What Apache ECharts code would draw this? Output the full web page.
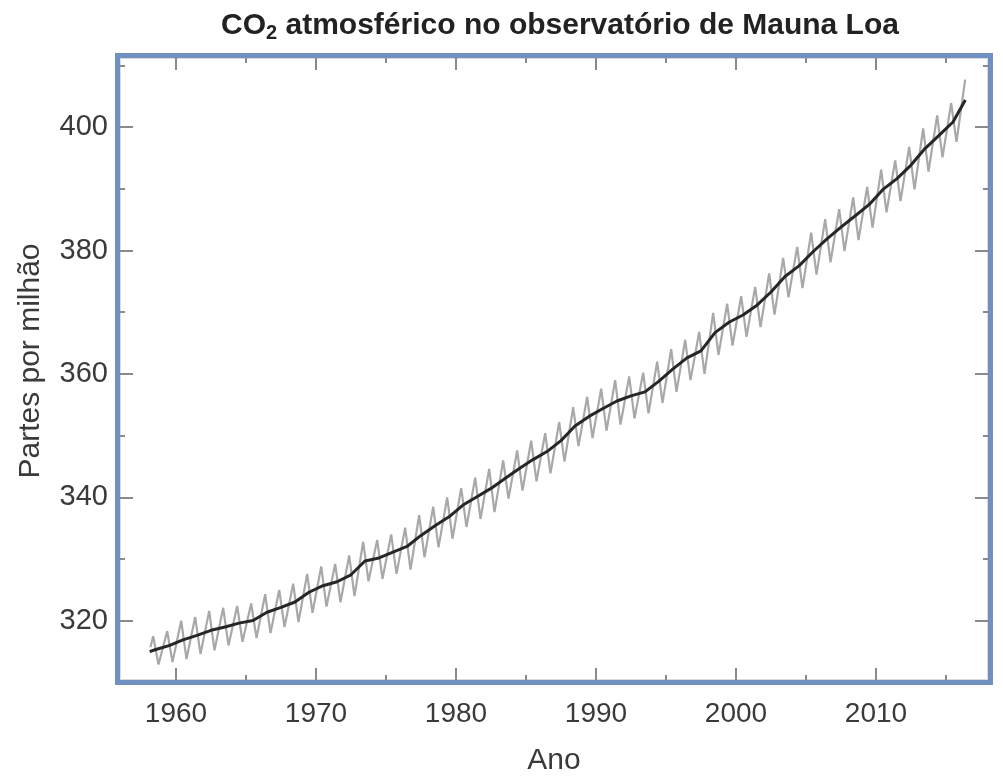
<!DOCTYPE html>
<html>
<head>
<meta charset="utf-8">
<script src="https://cdn.jsdelivr.net/npm/echarts@6/dist/echarts.min.js"></script>
<style>
html,body{margin:0;padding:0;background:#fff;}
#chart{width:1003px;height:783px;}
</style>
</head>
<body>
<div id="chart"></div>
<script>
// ---- data ----
const firstYear = 1958;
// gray monthly curve: start point (Mar 1958), yearly May peaks, yearly Sep/Oct troughs
const grayStart = [1958.17, 315.7];
const peakMay = [317.5, 318.3, 320.0, 320.6, 321.6, 322.1, 322.4, 322.8, 324.3, 325.0,
  326.0, 327.6, 328.8, 329.2, 330.6, 332.8, 333.1, 334.0, 335.1, 337.1,
  338.5, 340.0, 341.5, 343.2, 344.6, 346.0, 347.6, 349.2, 350.4, 352.2,
  354.6, 356.3, 357.6, 359.0, 359.6, 360.2, 362.0, 364.0, 365.5, 366.8,
  369.9, 371.4, 372.6, 374.1, 376.3, 378.8, 380.6, 382.9, 385.1, 386.7,
  388.6, 390.3, 393.1, 394.6, 396.8, 399.8, 401.9, 403.9, 407.7];
const troughAutumn = [312.9, 313.3, 313.8, 314.6, 315.2, 316.0, 316.6, 317.2, 318.0, 319.0,
  319.8, 321.3, 322.3, 323.0, 324.0, 326.4, 326.8, 327.6, 328.3, 330.3,
  331.9, 333.3, 335.2, 336.5, 337.6, 339.8, 341.1, 342.6, 343.9, 345.8,
  348.3, 349.6, 350.8, 351.8, 352.8, 353.6, 355.3, 357.1, 359.0, 360.0,
  363.1, 364.6, 366.0, 367.6, 369.6, 372.4, 373.9, 376.1, 378.1, 379.9,
  381.7, 383.7, 386.2, 388.0, 389.9, 392.8, 395.1, 397.6];
const peakOffset = 0.37, troughOffset = 0.75; // May, late Sep (fraction of year)
// black trend curve: start, annual means at mid-year (1958..2015), end
const trendStart = [1958.12, 315.0];
const trendAnnual = [315.3, 315.97, 316.91, 317.64, 318.45, 318.99, 319.62, 320.04, 321.38, 322.16,
  323.04, 324.62, 325.68, 326.32, 327.45, 329.68, 330.18, 331.11, 332.04, 333.83,
  335.40, 336.84, 338.75, 340.11, 341.45, 343.05, 344.65, 346.12, 347.42, 349.19,
  351.57, 353.12, 354.39, 355.61, 356.45, 357.10, 358.83, 360.82, 362.61, 363.73,
  366.70, 368.38, 369.55, 371.14, 373.28, 375.80, 377.52, 379.80, 381.90, 383.79,
  385.60, 387.43, 389.90, 391.65, 393.85, 396.52, 398.65, 400.83];
const trendEnd = [2016.38, 404.4];

// axes
const xMin = 1956, xMax = 2018;
const xMajor = [1960, 1970, 1980, 1990, 2000, 2010];
const xMinor = [1965, 1975, 1985, 1995, 2005, 2015];
const yMin = 310.4, yMax = 411.2;
const yMajor = [320, 340, 360, 380, 400];
const yMinor = [330, 350, 370, 390, 410];

const xName = 'Ano';
const yName = 'Partes por milhão';

// ---- build series ----
const grayData = [grayStart];
for (let i = 0; i < peakMay.length; i++) {
  grayData.push([firstYear + i + peakOffset, peakMay[i]]);
  if (i < troughAutumn.length) grayData.push([firstYear + i + troughOffset, troughAutumn[i]]);
}
const trendData = [trendStart];
for (let i = 0; i < trendAnnual.length; i++) trendData.push([firstYear + i + 0.5, trendAnnual[i]]);
trendData.push(trendEnd);

const FONT = '"Liberation Sans", Arial, Helvetica, sans-serif';
const TXT = '#3a3a3a';
const tickStyle = { color: '#8a8a8a', width: 2 };

function xAx(pos, ticks, len, withLabel) {
  const a = {
    type: 'value', position: pos, min: xMin, max: xMax,
    axisLine: { show: false }, splitLine: { show: false },
    axisTick: { show: true, inside: true, length: len, customValues: ticks, lineStyle: tickStyle },
    axisLabel: { show: false }
  };
  if (withLabel) {
    a.axisLabel = { show: true, customValues: ticks, fontSize: 28, color: TXT, fontFamily: FONT, margin: 20,
      formatter: v => String(v) };
    a.name = xName; a.nameLocation = 'middle'; a.nameGap = 66;
    a.nameTextStyle = { fontSize: 30, color: TXT, fontFamily: FONT };
  }
  return a;
}
function yAx(pos, ticks, len, withLabel) {
  const a = {
    type: 'value', position: pos, min: yMin, max: yMax,
    axisLine: { show: false }, splitLine: { show: false },
    axisTick: { show: true, inside: true, length: len, customValues: ticks, lineStyle: tickStyle },
    axisLabel: { show: false }
  };
  if (withLabel) {
    a.axisLabel = { show: true, customValues: ticks, fontSize: 29, color: TXT, fontFamily: FONT, margin: 12,
      formatter: v => String(v) };
    a.name = yName; a.nameLocation = 'middle'; a.nameRotate = 90; a.nameGap = 74;
    a.nameTextStyle = { fontSize: 30, color: TXT, fontFamily: FONT, padding: [0, 0, 0, 16] };
  }
  return a;
}

const chart = echarts.init(document.getElementById('chart'), null, { renderer: 'canvas' });
chart.setOption({
  animation: false,
  backgroundColor: '#fff',
  title: {
    text: '{a|CO}{s|2}{a| atmosférico no observatório de Mauna Loa}',
    left: 555, top: 4, textAlign: 'center',
    textStyle: {
      rich: {
        a: { fontSize: 30, fontWeight: 'bold', color: '#222', fontFamily: FONT, lineHeight: 34 },
        s: { fontSize: 20, fontWeight: 'bold', color: '#222', fontFamily: FONT, lineHeight: 14, verticalAlign: 'bottom' }
      }
    }
  },
  grid: {
    left: 120, right: 15, top: 58, bottom: 103,
    show: true, borderColor: '#dcdcdc', borderWidth: 2, backgroundColor: 'transparent'
  },
  xAxis: [
    xAx('bottom', xMajor, 12, true),
    xAx('bottom', xMinor, 5, false),
    xAx('top', xMajor, 12, false),
    xAx('top', xMinor, 5, false)
  ],
  yAxis: [
    yAx('left', yMajor, 13, true),
    yAx('left', yMinor, 5, false),
    yAx('right', yMajor, 13, false),
    yAx('right', yMinor, 5, false)
  ],
  graphic: [{
    type: 'rect', z: 100, silent: true,
    shape: { x: 117.5, y: 55.5, width: 873, height: 627 },
    style: { fill: 'none', stroke: '#7190c2', lineWidth: 5 }
  }],
  series: [
    {
      type: 'line', xAxisIndex: 0, yAxisIndex: 0, data: grayData,
      symbol: 'none', lineStyle: { color: '#a8a8a8', width: 2.2 }, z: 2
    },
    {
      type: 'line', xAxisIndex: 0, yAxisIndex: 0, data: trendData,
      symbol: 'none', lineStyle: { color: '#262626', width: 3 }, z: 3
    }
  ]
});
</script>
</body>
</html>
